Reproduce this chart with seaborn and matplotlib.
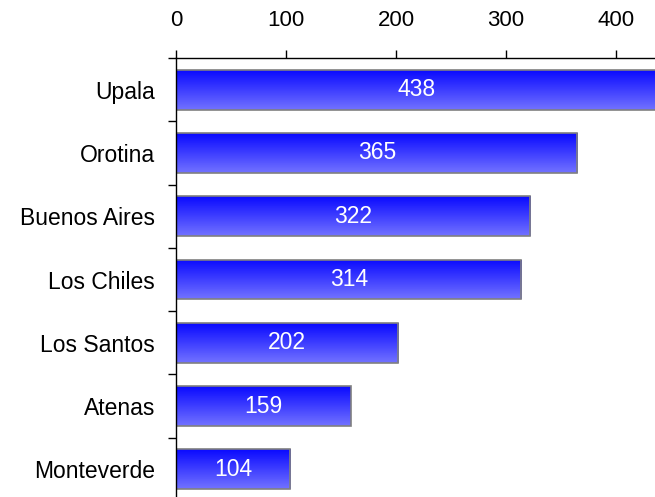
import numpy as np
import pandas as pd
import matplotlib
matplotlib.use("Agg")
from matplotlib import pyplot as plt
import seaborn as sns

cantones = ["Upala", "Orotina", "Buenos Aires", "Los Chiles", "Los Santos", "Atenas", "Monteverde"]
valores = [438, 365, 322, 314, 202, 159, 104]

sns.set_style("white")
plt.rcParams['font.family'] = ['Liberation Sans', 'DejaVu Sans']
plt.rcParams['text.color'] = 'black'
plt.rcParams['xtick.color'] = 'black'
plt.rcParams['ytick.color'] = 'black'

df = pd.DataFrame({"canton": cantones, "valor": valores})

fig = plt.figure(figsize=(6.55, 4.97), dpi=100)
ax = fig.add_axes([176 / 655, -4 / 497, 479 / 655, 443 / 497])

sns.barplot(data=df, x="valor", y="canton", orient="h", width=0.63,
            color="#4040ff", edgecolor="#808080", linewidth=1.2, ax=ax)

ax.set_xlim(0, 435.5)
ax.set_ylim(len(cantones) - 0.5, -0.5)

# gradiente vertical dentro de cada barra
grad = np.linspace(0, 1, 64).reshape(-1, 1)
cmap = matplotlib.colors.LinearSegmentedColormap.from_list("g", ["#0a0aff", "#7272ff"])
for p in ax.patches:
    x0, y0 = p.get_x(), p.get_y()
    w, h = p.get_width(), p.get_height()
    im = ax.imshow(grad, cmap=cmap, aspect="auto", extent=(x0, x0 + w, y0 + h, y0),
                   origin="upper", zorder=p.get_zorder() + 0.1)
    im.set_clip_path(p)
    p.set_facecolor("none")
    p.set_zorder(p.get_zorder() + 0.2)

for i, v in enumerate(valores):
    ax.text(v / 2, i, str(v), color="white", ha="center", va="center", fontsize=16.5)

ax.set_xlabel("")
ax.set_ylabel("")
ax.xaxis.tick_top()
ax.set_xticks([0, 100, 200, 300, 400])
ax.tick_params(axis="x", which="major", direction="out", length=5.5, width=1,
               labelsize=16, pad=14)
ax.set_yticks(range(len(cantones)))
ax.set_yticklabels(cantones)
ax.set_yticks(np.arange(-0.5, len(cantones), 1), minor=True)
ax.tick_params(axis="y", which="major", length=0, labelsize=16.5, pad=15)
ax.tick_params(axis="y", which="minor", direction="out", length=6, width=1, left=True)
ax.set_ylim(len(cantones) - 0.5, -0.5)

for s in ["right", "bottom"]:
    ax.spines[s].set_visible(False)
for s in ["top", "left"]:
    ax.spines[s].set_color("black")
    ax.spines[s].set_linewidth(1)

fig.savefig("out.png", dpi=100)
